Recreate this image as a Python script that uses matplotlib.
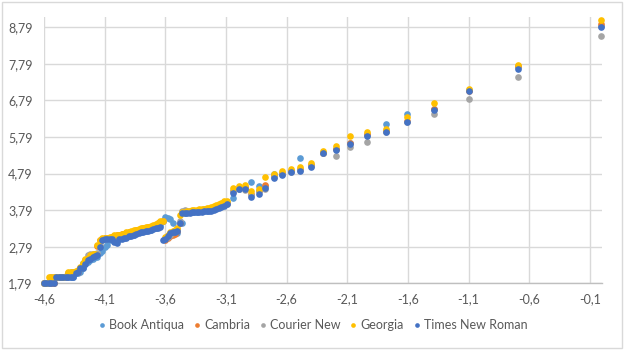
import matplotlib
matplotlib.use('Agg')
import matplotlib.pyplot as plt
from matplotlib.patches import Rectangle

# shared x values (log scale values)
x = [-4.60, -4.58, -4.56, -4.54, -4.52,
     -4.50, -4.48, -4.46, -4.44, -4.42, -4.40, -4.38, -4.36, -4.34,
     -4.32, -4.30, -4.28, -4.26, -4.24, -4.22, -4.20, -4.18, -4.16, -4.14, -4.12, -4.10,
     -4.08, -4.06, -4.04, -4.02, -4.00, -3.98, -3.96, -3.94, -3.92, -3.90, -3.88, -3.86,
     -3.84, -3.82, -3.80, -3.78, -3.76, -3.74, -3.72, -3.70, -3.68, -3.66, -3.64,
     -3.62, -3.60, -3.58, -3.56, -3.54, -3.52, -3.50, -3.48, -3.46,
     -3.44, -3.42, -3.40, -3.38, -3.36, -3.34, -3.32, -3.30, -3.28, -3.26, -3.24, -3.22,
     -3.20, -3.18, -3.16, -3.14,
     -3.12, -3.09, -3.04, -2.995, -2.945, -2.89, -2.83, -2.775, -2.706, -2.637, -2.563,
     -2.486, -2.395, -2.30, -2.195, -2.075, -1.94, -1.78, -1.605, -1.385, -1.095, -0.695, -0.01]

book_antiqua = [1.79, 1.79, 1.79, 1.79, 1.79,
                1.96, 1.96, 1.96, 1.96, 1.96, 1.96, 1.97, 1.97, 2.06,
                2.08, 2.10, 2.22, 2.33, 2.36, 2.44, 2.45, 2.50, 2.52, 2.61, 2.67, 2.78,
                2.85, 2.98, 3.00, 3.02, 3.01, 3.01, 3.02, 3.03, 3.05, 3.09, 3.10, 3.12,
                3.16, 3.18, 3.19, 3.21, 3.22, 3.24, 3.26, 3.29, 3.31, 3.33, 3.38,
                3.50, 3.61, 3.57, 3.54, 3.43, 3.22, 3.17, 3.43, 3.45,
                3.72, 3.73, 3.73, 3.74, 3.75, 3.75, 3.76, 3.77, 3.77, 3.78, 3.79, 3.80,
                3.82, 3.84, 3.87, 3.90,
                3.95, 3.98, 4.13, 4.38, 4.40, 4.57, 4.46, 4.46, 4.77, 4.77, 4.85,
                5.21, 5.02, 5.36, 5.46, 5.62, 5.85, 6.15, 6.43, 6.55, 7.08, 7.70, 8.82]

cambria = [1.79, 1.79, 1.79, 1.80, 1.80,
           1.96, 1.96, 1.96, 1.97, 1.97, 2.06, 2.08, 2.09, 2.10,
           2.10, 2.21, 2.33, 2.44, 2.46, 2.55, 2.56, 2.58, 2.80, 2.97, 3.01, 3.02,
           3.03, 3.04, 3.05, 3.08, 3.10, 3.11, 3.13, 3.14, 3.16, 3.18, 3.20, 3.22,
           3.24, 3.26, 3.28, 3.29, 3.31, 3.32, 3.34, 3.36, 3.39, 3.43, 3.47,
           3.49, 2.98, 3.04, 3.07, 3.10, 3.14, 3.21, 3.45, 3.73,
           3.73, 3.74, 3.75, 3.76, 3.77, 3.77, 3.78, 3.79, 3.80, 3.81, 3.82, 3.84,
           3.86, 3.88, 3.90, 3.93,
           3.96, 3.99, 4.32, 4.40, 4.42, 4.22, 4.30, 4.48, 4.72, 4.80, 4.86,
           4.92, 5.03, 5.36, 5.46, 5.62, 5.86, 5.96, 6.24, 6.55, 7.04, 7.72, 8.89]

courier_new = [1.79, 1.79, 1.80, 1.95, 1.95,
               1.96, 1.96, 1.97, 1.97, 1.97, 2.08, 2.09, 2.10, 2.11,
               2.10, 2.22, 2.34, 2.44, 2.57, 2.60, 2.60, 2.60, 2.62, 2.83, 2.98, 3.01,
               3.02, 3.03, 3.04, 3.06, 3.08, 3.09, 3.11, 3.12, 3.15, 3.17, 3.18, 3.21,
               3.23, 3.24, 3.26, 3.28, 3.29, 3.30, 3.32, 3.35, 3.38, 3.42, 3.46,
               3.48, 3.00, 3.05, 3.10, 3.20, 3.22, 3.28, 3.48, 3.77,
               3.79, 3.77, 3.76, 3.77, 3.78, 3.78, 3.79, 3.80, 3.81, 3.82, 3.83, 3.85,
               3.87, 3.89, 3.91, 3.94,
               3.94, 3.97, 4.30, 4.38, 4.35, 4.20, 4.30, 4.36, 4.70, 4.77, 4.83,
               4.90, 5.00, 5.34, 5.28, 5.52, 5.64, 5.93, 6.20, 6.43, 6.84, 7.43, 8.55]

georgia = [1.79, 1.80, 1.95, 1.95, 1.96,
           1.97, 1.97, 1.97, 1.97, 1.98, 2.09, 2.10, 2.10, 2.12,
           2.14, 2.24, 2.35, 2.45, 2.47, 2.56, 2.58, 2.60, 2.85, 2.98, 3.02, 3.03,
           3.04, 3.05, 3.06, 3.10, 3.11, 3.12, 3.14, 3.15, 3.18, 3.20, 3.21, 3.24,
           3.25, 3.27, 3.29, 3.30, 3.32, 3.33, 3.35, 3.38, 3.40, 3.45, 3.48,
           3.50, 3.05, 3.12, 3.18, 3.22, 3.25, 3.30, 3.66, 3.75,
           3.75, 3.77, 3.78, 3.79, 3.80, 3.80, 3.81, 3.82, 3.83, 3.85, 3.86, 3.88,
           3.90, 3.92, 3.95, 3.98,
           4.03, 4.04, 4.39, 4.44, 4.48, 4.30, 4.37, 4.69, 4.78, 4.85, 4.91,
           4.98, 5.09, 5.41, 5.53, 5.82, 5.93, 6.01, 6.34, 6.71, 7.10, 7.77, 8.98]

times_new_roman = [1.79, 1.79, 1.79, 1.79, 1.79,
                   1.96, 1.96, 1.96, 1.96, 1.96, 1.96, 1.97, 1.97, 2.08,
                   2.10, 2.20, 2.21, 2.33, 2.43, 2.45, 2.52, 2.53, 2.56, 2.79, 2.97, 3.00,
                   3.00, 3.01, 3.00, 2.93, 2.90, 3.00, 3.01, 3.02, 3.03, 3.08, 3.09, 3.10,
                   3.15, 3.17, 3.18, 3.20, 3.21, 3.22, 3.25, 3.28, 3.30, 3.31, 3.33,
                   2.98, 2.99, 3.07, 3.17, 3.20, 3.18, 3.22, 3.43, 3.71,
                   3.71, 3.72, 3.72, 3.73, 3.74, 3.74, 3.75, 3.75, 3.76, 3.77, 3.78, 3.78,
                   3.80, 3.82, 3.84, 3.88,
                   3.91, 3.95, 4.27, 4.36, 4.38, 4.16, 4.23, 4.40, 4.68, 4.75, 4.83,
                   4.87, 4.98, 5.35, 5.44, 5.60, 5.83, 5.92, 6.20, 6.52, 7.06, 7.65, 8.79]

series_names = ['Book Antiqua', 'Cambria', 'Courier New', 'Georgia', 'Times New Roman']
series_values = [book_antiqua, cambria, courier_new, georgia, times_new_roman]
colors = ['#5B9BD5', '#ED7D31', '#A5A5A5', '#FFC000', '#4472C4']

x_ticks = [-4.6, -4.1, -3.6, -3.1, -2.6, -2.1, -1.6, -1.1, -0.6, -0.1]
x_tick_labels = ['-4,6', '-4,1', '-3,6', '-3,1', '-2,6', '-2,1', '-1,6', '-1,1', '-0,6', '-0,1']
y_ticks = [1.79, 2.79, 3.79, 4.79, 5.79, 6.79, 7.79, 8.79]
y_tick_labels = ['1,79', '2,79', '3,79', '4,79', '5,79', '6,79', '7,79', '8,79']

plt.rcParams['font.family'] = ['Lato', 'DejaVu Sans']

fig = plt.figure(figsize=(6.24, 3.5), dpi=100)
ax = fig.add_axes([44 / 624, 1 - 283.3 / 350, 558 / 624, 266.3 / 350])

for name, vals, c in zip(series_names, series_values, colors):
    ax.plot(x, vals, linestyle='none', marker='o', markersize=4.8,
            color=c, markeredgewidth=0, label=name, clip_on=False, zorder=3)

ax.set_xlim(-4.6, 0.0)
ax.set_ylim(1.79, 9.07)
ax.set_xticks(x_ticks)
ax.set_xticklabels(x_tick_labels)
ax.set_yticks(y_ticks)
ax.set_yticklabels(y_tick_labels)
ax.tick_params(length=0, labelsize=9, labelcolor='#595959')
ax.tick_params(axis='y', pad=8)
ax.tick_params(axis='x', pad=7)
ax.grid(True, color='#d9d9d9', linewidth=1)
ax.set_axisbelow(True)
for s in ['top', 'right', 'left']:
    ax.spines[s].set_visible(False)
ax.spines['bottom'].set_color('#bfbfbf')
ax.spines['bottom'].set_linewidth(1)

fig.legend(loc='center', bbox_to_anchor=(313 / 624, 1 - 325 / 350), ncol=5, frameon=False,
           fontsize=9, labelcolor='#595959', markerscale=0.7, handlelength=0.5,
           handletextpad=0.35, columnspacing=0.75)

# chart border
fig.patches.append(Rectangle((2 / 624, 2 / 350), 620 / 624, 346 / 350, transform=fig.transFigure,
                             fill=False, edgecolor='#d9d9d9', linewidth=1))

fig.savefig('out.png', dpi=100)
